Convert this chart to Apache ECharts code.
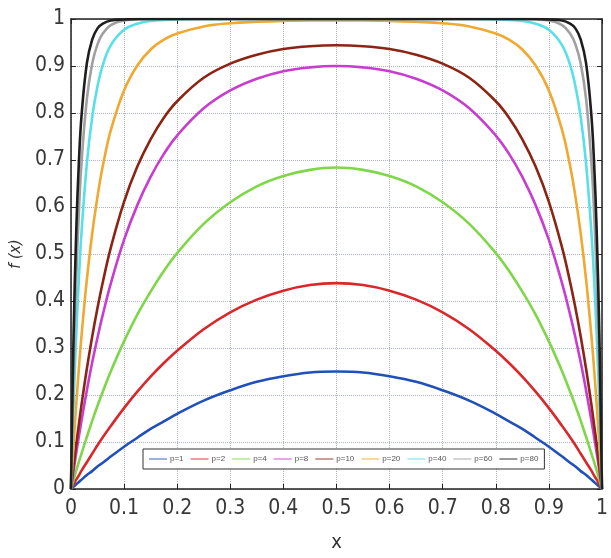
<!DOCTYPE html>
<html>
<head>
<meta charset="UTF-8">
<title>f(x)</title>
<style>
  html, body { margin: 0; padding: 0; background: #fff; }
  #chart { width: 611px; height: 558px; }
</style>
</head>
<body>
<div id="chart"></div>
<script src="https://cdn.jsdelivr.net/npm/echarts@6/dist/echarts.min.js"></script>
<script>
// x positions where the curves were read
var xs = [0, 0.005, 0.01, 0.015, 0.02, 0.03, 0.04, 0.05, 0.06, 0.075, 0.1, 0.125, 0.15, 0.175, 0.2, 0.25, 0.3, 0.35, 0.4, 0.45, 0.5,
  0.55, 0.6, 0.65, 0.7, 0.75, 0.8, 0.825, 0.85, 0.875, 0.9, 0.925, 0.94, 0.95, 0.96, 0.97, 0.98, 0.985, 0.99, 0.995, 1];

var legendNames = ['p=1', 'p=2', 'p=4', 'p=8', 'p=10', 'p=20', 'p=40', 'p=60', 'p=80'];
var colors = ['#2050b8', '#d8282c', '#7ed648', '#c83cd0', '#8c2414', '#f0a830', '#58e0e8', '#a0a0a0', '#1e1e1e'];

var p1 = [0, .005, .01, .015, .02, .03, .038, .048, .056, .069, .09, .109, .128, .144, .16, .188, .21, .228, .24, .248, .25,
  .248, .24, .228, .21, .188, .16, .144, .128, .109, .09, .069, .056, .048, .038, .03, .02, .015, .01, .005, 0];
var p2 = [0, .010, .020, .029, .039, .057, .075, .093, .110, .134, .172, .207, .239, .268, .294, .340, .376, .403, .422, .434, .438,
  .434, .422, .403, .376, .340, .294, .268, .239, .207, .172, .134, .110, .093, .075, .057, .039, .029, .020, .010, 0];
var p4 = [0, .020, .039, .058, .076, .111, .145, .177, .207, .250, .314, .371, .420, .464, .502, .564, .610, .644, .666, .679, .684,
  .679, .666, .644, .610, .564, .502, .464, .420, .371, .314, .250, .207, .177, .145, .111, .076, .058, .039, .020, 0];
var p8 = [0, .039, .077, .112, .146, .210, .269, .322, .371, .437, .530, .604, .664, .713, .752, .810, .848, .873, .889, .897, .900,
  .897, .889, .873, .848, .810, .752, .713, .664, .604, .530, .437, .371, .322, .269, .210, .146, .112, .077, .039, 0];
var p10 = [0, .049, .095, .138, .180, .256, .324, .385, .440, .513, .611, .686, .744, .790, .825, .875, .905, .924, .936, .942, .944,
  .942, .936, .924, .905, .875, .825, .790, .744, .686, .611, .513, .440, .385, .324, .256, .180, .138, .095, .049, 0];
var p20 = [0, .095, .180, .257, .327, .446, .543, .622, .687, .763, .848, .901, .935, .956, .969, .984, .991, .994, .996, .997, .997,
  .997, .996, .994, .991, .984, .969, .956, .935, .901, .848, .763, .687, .622, .543, .446, .327, .257, .180, .095, 0];
var p40 = [0, .181, .328, .449, .547, .693, .791, .857, .902, .944, .977, .990, .996, .998, .999, 1, 1, 1, 1, 1, 1,
  1, 1, 1, 1, 1, .999, .998, .996, .990, .977, .944, .902, .857, .791, .693, .547, .449, .328, .181, 0];
var p60 = [0, .259, .449, .591, .695, .830, .905, .946, .969, .987, .997, .999, 1, 1, 1, 1, 1, 1, 1, 1, 1,
  1, 1, 1, 1, 1, 1, 1, 1, .999, .997, .987, .969, .946, .905, .830, .695, .591, .449, .259, 0];
var p80 = [0, .329, .549, .696, .795, .906, .956, .980, .990, .997, .999, 1, 1, 1, 1, 1, 1, 1, 1, 1, 1,
  1, 1, 1, 1, 1, 1, 1, 1, 1, .999, .997, .990, .980, .956, .906, .795, .696, .549, .329, 0];

var allValues = [p1, p2, p4, p8, p10, p20, p40, p60, p80];

var labelFont = "'Liberation Sans Narrow', 'DejaVu Sans Condensed', 'Liberation Sans', sans-serif";

var series = legendNames.map(function (name, i) {
  return {
    name: name,
    type: 'line',
    data: xs.map(function (x, j) { return [x, allValues[i][j]]; }),
    showSymbol: false,
    smooth: 0.4,
    clip: true,
    lineStyle: { width: 2.6, color: colors[i] },
    itemStyle: { color: colors[i] }
  };
});

var chart = echarts.init(document.getElementById('chart'));
chart.setOption({
  animation: false,
  backgroundColor: '#fff',
  grid: { left: 70, right: 7, top: 19, bottom: 67, show: false },
  legend: {
    data: legendNames,
    left: 143,
    top: 449,
    orient: 'horizontal',
    backgroundColor: '#fff',
    borderColor: '#333',
    borderWidth: 1,
    padding: [6, 6],
    itemWidth: 18,
    itemHeight: 8,
    itemGap: 7,
    icon: 'path://M0,3.5 L20,3.5 L20,4.5 L0,4.5 Z',
    textStyle: { fontSize: 8, color: '#555', padding: [0, 0, 0, -2] }
  },
  xAxis: [{
    type: 'value',
    min: 0, max: 1, interval: 0.1,
    name: 'x',
    nameLocation: 'middle',
    nameGap: 44,
    nameTextStyle: { fontSize: 20, color: '#333', fontFamily: labelFont },
    axisLine: { show: true, onZero: false, lineStyle: { color: '#222', width: 1.5 } },
    axisTick: { show: true, inside: true, length: 5, lineStyle: { color: '#222' } },
    axisLabel: { fontSize: 21, color: '#383838', margin: 9, fontFamily: labelFont,
      formatter: function (v) { return String(+v.toFixed(1)); } },
    splitLine: { show: true, lineStyle: { color: '#aab0c0', type: 'dotted', width: 1 } }
  }, {
    type: 'value', position: 'top', min: 0, max: 1, interval: 0.1,
    axisLine: { show: true, onZero: false, lineStyle: { color: '#222', width: 1.5 } },
    axisTick: { show: true, inside: true, length: 5, lineStyle: { color: '#222' } },
    axisLabel: { show: false },
    splitLine: { show: false }
  }],
  yAxis: [{
    type: 'value',
    min: 0, max: 1, interval: 0.1,
    name: 'f (x)',
    nameLocation: 'middle',
    nameRotate: 90,
    nameGap: 36,
    nameTextStyle: { fontSize: 16, color: '#333', fontStyle: 'italic', fontFamily: labelFont },
    axisLine: { show: true, onZero: false, lineStyle: { color: '#222', width: 1.5 } },
    axisTick: { show: true, inside: true, length: 5, lineStyle: { color: '#222' } },
    axisLabel: { fontSize: 21, color: '#383838', margin: 6, fontFamily: labelFont,
      formatter: function (v) { return String(+v.toFixed(1)); } },
    splitLine: { show: true, lineStyle: { color: '#aab0c0', type: 'dotted', width: 1 } }
  }, {
    type: 'value', position: 'right', min: 0, max: 1, interval: 0.1,
    axisLine: { show: true, onZero: false, lineStyle: { color: '#222', width: 1.5 } },
    axisTick: { show: true, inside: true, length: 5, lineStyle: { color: '#222' } },
    axisLabel: { show: false },
    splitLine: { show: false }
  }],
  series: series
});
</script>
</body>
</html>
